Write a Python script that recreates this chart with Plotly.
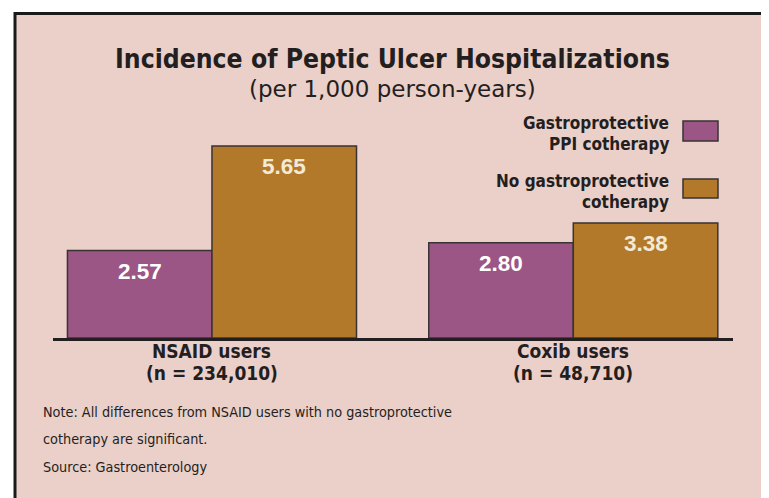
import plotly.graph_objects as go

categories = ["NSAID users", "Coxib users"]
category_counts = ["(n = 234,010)", "(n = 48,710)"]
series_names = ["Gastroprotective PPI cotherapy", "No gastroprotective cotherapy"]
ppi_values = [2.57, 2.80]
no_ppi_values = [5.65, 3.38]
value_labels = [["2.57", "2.80"], ["5.65", "3.38"]]

W, H = 777, 498
OFF = 8  # page body margin
L, R, T, B = 53 - OFF, 52, 100 - OFF, 168
PW, PH = W - L - R, H - T - B

def px(x):
    return (x - OFF - L) / PW

def py(y):
    return (H - B - (y - OFF)) / PH

BG = "#ebcfc9"
PURPLE = "#9b5686"
GOLD = "#b2792b"
LABEL_COLORS = ["#ffffff", "#f3ead6"]
COND = "DejaVu Sans Condensed"

fig = go.Figure()
for name, vals, col in [(series_names[0], ppi_values, PURPLE), (series_names[1], no_ppi_values, GOLD)]:
    fig.add_trace(go.Bar(
        x=categories, y=vals, name=name,
        marker=dict(color=col, line=dict(color="#3a3333", width=1.5)),
        showlegend=False, hoverinfo="skip",
    ))

shapes = [
    dict(type="rect", xref="paper", yref="paper", x0=px(15), x1=px(840), y0=py(560), y1=py(13.5),
         fillcolor=BG, line=dict(color="#1a1a1a", width=3), layer="below"),
    dict(type="rect", xref="paper", yref="paper", x0=px(683), x1=px(718), y0=py(141), y1=py(121),
         fillcolor=PURPLE, line=dict(color="#3a3333", width=1.5)),
    dict(type="rect", xref="paper", yref="paper", x0=px(683), x1=px(718), y0=py(198), y1=py(179),
         fillcolor=GOLD, line=dict(color="#3a3333", width=1.5)),
]

ann = []
ann.append(dict(text="<b>Incidence of Peptic Ulcer Hospitalizations</b>", x=px(392), y=py(59),
                xref="paper", yref="paper", showarrow=False, xanchor="center", yanchor="middle",
                font=dict(family=COND, size=26.3, color="#231f20")))
ann.append(dict(text="(per 1,000 person-years)", x=px(392), y=py(89),
                xref="paper", yref="paper", showarrow=False, xanchor="center", yanchor="middle",
                font=dict(family="DejaVu Sans", size=23, color="#231f20")))
for txt, yy in [("Gastroprotective", 123), ("PPI cotherapy", 144), ("No gastroprotective", 181), ("cotherapy", 202)]:
    ann.append(dict(text="<b>" + txt + "</b>", x=px(671), y=py(yy), xref="paper", yref="paper",
                    showarrow=False, xanchor="right", yanchor="middle",
                    font=dict(family=COND, size=17, color="#231f20")))
for txt, yy in [("Note: All differences from NSAID users with no gastroprotective", 412),
                ("cotherapy are significant.", 439),
                ("Source: Gastroenterology", 467)]:
    ann.append(dict(text=txt, x=px(41), y=py(yy), xref="paper", yref="paper",
                    showarrow=False, xanchor="left", yanchor="middle",
                    font=dict(family=COND, size=14.3, color="#231f20")))
# category labels (two lines)
for i, (c, n) in enumerate(zip(categories, category_counts)):
    for txt, yy in [(c, 351), (n, 373)]:
        ann.append(dict(text="<b>" + txt + "</b>", x=c, y=py(yy), xref="x", yref="paper",
                        showarrow=False, xanchor="center", yanchor="middle",
                        font=dict(family=COND, size=19, color="#231f20")))
# value labels inside bars near the top
for j, vals in enumerate([ppi_values, no_ppi_values]):
    for i, v in enumerate(vals):
        ann.append(dict(text="<b>" + value_labels[j][i] + "</b>", x=i + (j - 0.5) * 0.4, y=v,
                        xref="x", yref="y", showarrow=False, xanchor="center", yanchor="top",
                        yshift=-6, font=dict(family="Liberation Sans", size=22.5, color=LABEL_COLORS[j])))

fig.update_layout(
    width=W, height=H,
    margin=dict(l=L, r=R, t=T, b=B),
    paper_bgcolor="#ffffff",
    plot_bgcolor="rgba(0,0,0,0)",
    barmode="group", bargap=0.2, bargroupgap=0,
    shapes=shapes, annotations=ann,
    xaxis=dict(range=[-0.44, 1.442], showticklabels=False,
               showline=True, linecolor="#231f20", linewidth=2.5, ticks="", showgrid=False,
               zeroline=False),
    yaxis=dict(range=[0, 7], visible=False, showgrid=False, zeroline=False),
    showlegend=False,
)

fig.write_html("out.html")
